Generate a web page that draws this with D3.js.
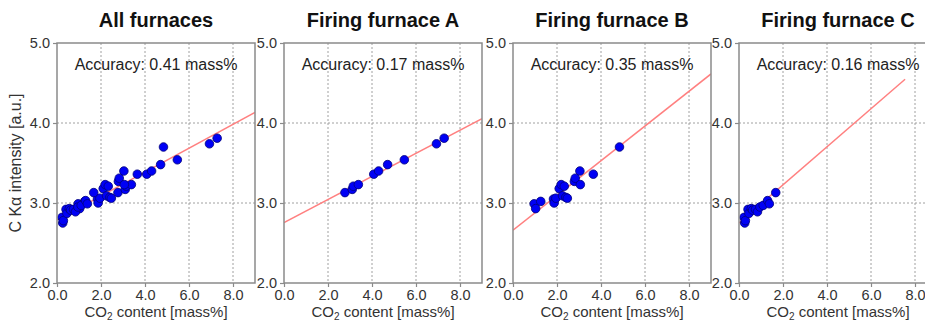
<!DOCTYPE html>
<html>
<head>
<meta charset="utf-8">
<script src="https://cdn.jsdelivr.net/npm/d3@7"></script>
<style>
  body { margin: 0; background: #fff; }
  svg { display: block; font-family: "Liberation Sans", Arial, sans-serif; }
  .frame { fill: none; stroke: #8a8a8a; stroke-width: 1.5; }
  .grid line { stroke: #a0a0a0; stroke-width: 1; stroke-dasharray: 2,2; }
  .axis path { display: none; }
  .axis line { stroke: #8a8a8a; stroke-width: 1.2; }
  .axis text { font-size: 14.5px; fill: #333; }
</style>
</head>
<body>
<svg id="chart" width="925" height="324"></svg>
<script>
const titles = ['All furnaces', 'Firing furnace A', 'Firing furnace B', 'Firing furnace C'];
const accuracy = ['0.41', '0.17', '0.35', '0.16'];

// furnace A
const aX = [2.77, 3.10, 3.15, 3.38, 4.08, 4.30, 4.71, 5.47, 6.93, 7.28];
const aY = [3.13, 3.17, 3.21, 3.23, 3.36, 3.40, 3.48, 3.54, 3.74, 3.81];
// furnace B
const bX = [0.96, 1.03, 1.26, 1.84, 1.87, 1.95, 2.10, 2.19, 2.33, 2.25, 2.40, 2.47, 2.79, 2.83, 3.04, 3.06, 3.65, 4.84];
const bY = [2.99, 2.93, 3.02, 3.05, 3.00, 3.06, 3.18, 3.23, 3.21, 3.09, 3.07, 3.06, 3.27, 3.31, 3.40, 3.23, 3.36, 3.70];
// furnace C
const cX = [0.23, 0.26, 0.29, 0.41, 0.45, 0.56, 0.62, 0.75, 0.84, 0.95, 1.10, 1.30, 1.38, 1.67];
const cY = [2.82, 2.75, 2.78, 2.92, 2.87, 2.93, 2.91, 2.92, 2.89, 2.95, 2.97, 3.03, 2.99, 3.13];

// fitted lines: intercept, slope, x end
const intercepts = [2.79, 2.754, 2.66, 2.75];
const slopes = [0.149, 0.1445, 0.217, 0.238];
const lineEnd = [9, 9, 9, 7.55];

const xTicks = [0, 2, 4, 6, 8];
const yTicks = [2, 3, 4, 5];
const xGrid = [2, 4, 6, 8];
const yGrid = [3, 4];

const panels = [
  { x: aX.concat(bX, cX), y: aY.concat(bY, cY) },
  { x: aX, y: aY },
  { x: bX, y: bY },
  { x: cX, y: cY }
];

const lefts = [57, 284, 513, 739];
const plotTop = 43, w = 198, h = 240;

const svg = d3.select('#chart');
const x = d3.scaleLinear().domain([0, 9]).range([0, w]);
const y = d3.scaleLinear().domain([2, 5]).range([h, 0]);

panels.forEach((p, i) => {
  const g = svg.append('g').attr('transform', `translate(${lefts[i]},${plotTop})`);

  g.append('clipPath').attr('id', 'clip' + i)
    .append('rect').attr('width', w).attr('height', h);

  const grid = g.append('g').attr('class', 'grid');
  grid.selectAll('line.v').data(xGrid).enter().append('line').attr('class', 'v')
    .attr('x1', d => x(d)).attr('x2', d => x(d)).attr('y1', 0).attr('y2', h);
  grid.selectAll('line.h').data(yGrid).enter().append('line').attr('class', 'h')
    .attr('x1', 0).attr('x2', w).attr('y1', d => y(d)).attr('y2', d => y(d));

  g.append('g').attr('class', 'axis')
    .call(d3.axisLeft(y).tickValues(yTicks).tickFormat(d3.format('.1f')).tickSize(4).tickPadding(3));
  g.append('g').attr('class', 'axis')
    .attr('transform', `translate(0,${h})`)
    .call(d3.axisBottom(x).tickValues(xTicks).tickFormat(d3.format('.1f')).tickSize(4).tickPadding(3));

  const line = d3.line().x(d => x(d)).y(d => y(intercepts[i] + slopes[i] * d));
  g.append('path')
    .attr('clip-path', `url(#clip${i})`)
    .attr('d', line([0, lineEnd[i]]))
    .attr('fill', 'none')
    .attr('stroke', '#ff8080')
    .attr('stroke-width', 1.5);

  g.selectAll('circle').data(p.x).enter().append('circle')
    .attr('cx', d => x(d))
    .attr('cy', (d, j) => y(p.y[j]))
    .attr('r', 4.3)
    .attr('fill', '#0000f5')
    .attr('stroke', '#00007a')
    .attr('stroke-width', 0.8);

  g.append('rect').attr('class', 'frame').attr('width', w).attr('height', h);

  g.append('text')
    .attr('x', w / 2).attr('y', 27 - plotTop)
    .attr('text-anchor', 'middle')
    .attr('font-size', 20).attr('font-weight', 'bold').attr('fill', '#111')
    .text(titles[i]);

  g.append('text')
    .attr('x', w / 2).attr('y', 70 - plotTop)
    .attr('text-anchor', 'middle')
    .attr('font-size', 16).attr('fill', '#222')
    .text('Accuracy: ' + accuracy[i] + ' mass%');

  const xt = g.append('text')
    .attr('x', w / 2).attr('y', 317 - plotTop)
    .attr('text-anchor', 'middle')
    .attr('font-size', 15).attr('fill', '#333');
  xt.append('tspan').text('CO');
  xt.append('tspan').attr('font-size', 10).attr('dy', 3).text('2');
  xt.append('tspan').attr('dy', -3).text(' content [mass%]');
});

svg.append('text')
  .attr('transform', `translate(21,${plotTop + h / 2}) rotate(-90)`)
  .attr('text-anchor', 'middle')
  .attr('font-size', 16).attr('fill', '#333')
  .text('C K\u03b1 intensity [a.u.]');
</script>
</body>
</html>
